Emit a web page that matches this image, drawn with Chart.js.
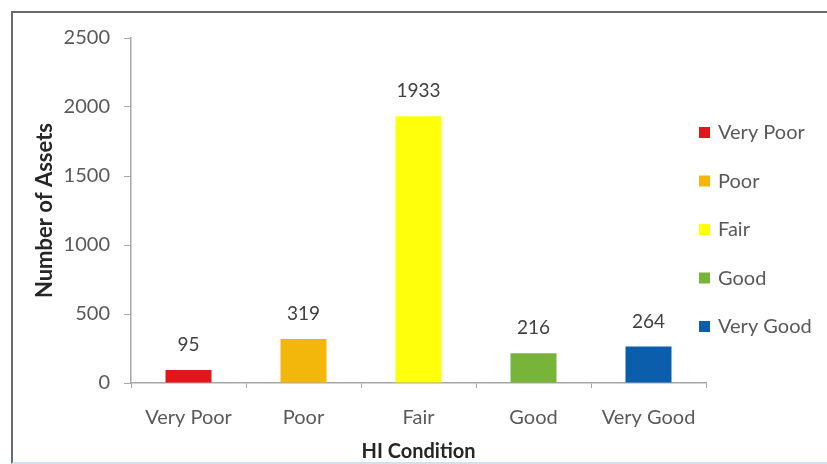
<!DOCTYPE html>
<html>
<head>
<meta charset="utf-8">
<script src="https://cdn.jsdelivr.net/npm/chart.js@4.4.1/dist/chart.umd.min.js"></script>
<style>
  html, body { margin: 0; padding: 0; background: #fff; }
  #wrap { position: relative; width: 827px; height: 464px; overflow: hidden; }
  #frame {
    position: absolute; left: 11px; top: 11px; width: 840px; height: 449px;
    border-left: 2px solid #6b6b6b; border-top: 2px solid #6b6b6b;
    border-bottom: 2px solid #cfe2ee;
  }
  canvas { position: absolute; left: 0; top: 0; }
</style>
</head>
<body>
<div id="wrap">
  <div id="frame"></div>
  <canvas id="chart" width="827" height="464"></canvas>
</div>
<script>
// HI condition categories and asset counts
const categories = ["Very Poor", "Poor", "Fair", "Good", "Very Good"];
const assetCounts = [95, 319, 1933, 216, 264];
const barColors = ["#e3161c", "#f2b70a", "#ffff0c", "#78b43a", "#0b5eab"];
const yTicks = [0, 500, 1000, 1500, 2000, 2500];

const FONT = "Lato, 'Open Sans', sans-serif";
const TEXT = "#595959";

// value printed above each bar
const barValues = {
  id: "barValues",
  afterDatasetsDraw(chart) {
    const ctx = chart.ctx;
    const meta = chart.getDatasetMeta(0);
    ctx.save();
    ctx.font = "19px " + FONT;
    ctx.fillStyle = "#404040";
    ctx.textAlign = "center";
    ctx.textBaseline = "middle";
    meta.data.forEach((bar, i) => {
      ctx.fillText(String(assetCounts[i]), bar.x, bar.y - 25);
    });
    ctx.restore();
  }
};

// legend on the right, one swatch per category
const sideLegend = {
  id: "sideLegend",
  afterDraw(chart) {
    const ctx = chart.ctx;
    const x0 = 699, y0 = 132, step = 48.5;
    ctx.save();
    ctx.font = "20px " + FONT;
    ctx.textBaseline = "middle";
    ctx.textAlign = "left";
    categories.forEach((name, i) => {
      const y = y0 + i * step;
      ctx.fillStyle = barColors[i];
      ctx.fillRect(x0, y - 5, 11, 11);
      ctx.fillStyle = TEXT;
      ctx.fillText(name, x0 + 19, y + 1);
    });
    ctx.restore();
  }
};

window.onload = () => {
  const ctx = document.getElementById("chart").getContext("2d");
  new Chart(ctx, {
    type: "bar",
    data: {
      labels: categories,
      datasets: [{
        data: assetCounts,
        backgroundColor: barColors,
        barPercentage: 0.4,
        categoryPercentage: 1.0
      }]
    },
    options: {
      responsive: false,
      animation: false,
      layout: { padding: { left: 12, right: 121, top: 38, bottom: 0 } },
      plugins: { legend: { display: false }, tooltip: { enabled: false } },
      scales: {
        x: {
          afterFit(scale) { scale.height = 81; },
          grid: { drawOnChartArea: false, tickLength: 5, color: "#a6a6a6" },
          border: { color: "#a6a6a6", width: 1.5 },
          ticks: { color: TEXT, font: { family: FONT, size: 20 }, padding: 18 },
          title: {
            display: true, text: "HI Condition", color: "#262626",
            font: { family: FONT, size: 20, weight: "bold" }, padding: { top: 3, bottom: 0 }
          }
        },
        y: {
          min: 0, max: 2500,
          afterFit(scale) { scale.width = 119; },
          afterBuildTicks(scale) { scale.ticks = yTicks.map(v => ({ value: v })); },
          grid: { drawOnChartArea: false, tickLength: 7, color: "#a6a6a6" },
          border: { color: "#a6a6a6", width: 1.5 },
          ticks: {
            color: TEXT, font: { family: FONT, size: 20 }, padding: 14,
            callback: v => String(v)
          },
          title: {
            display: true, text: "Number of Assets", color: "#262626",
            font: { family: FONT, size: 22, weight: "bold" }, padding: { top: 20, bottom: 0 }
          }
        }
      }
    },
    plugins: [barValues, sideLegend]
  });
};
</script>
</body>
</html>
